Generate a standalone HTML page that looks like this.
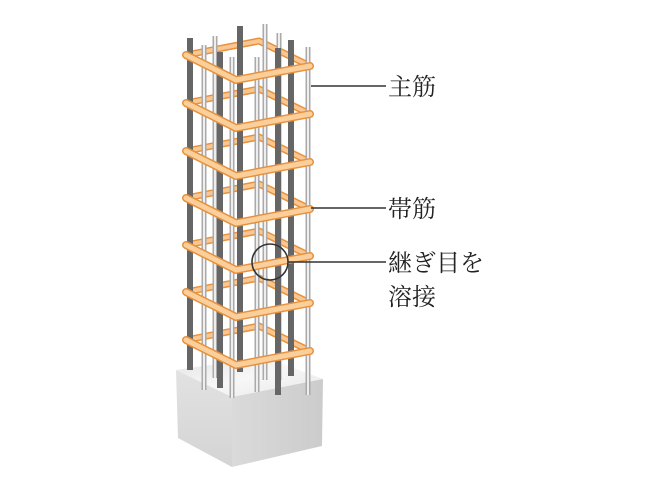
<!DOCTYPE html>
<html><head><meta charset="utf-8"><style>
html,body{margin:0;padding:0;background:#fff;width:660px;height:490px;overflow:hidden}
svg{display:block}
text{font-family:"Liberation Serif","Noto Serif CJK SC",serif;font-size:24px;fill:#222}
</style></head><body>
<svg width="660" height="490" viewBox="0 0 660 490">
<defs>
<linearGradient id="top" x1="0" y1="0" x2="1" y2="1"><stop offset="0" stop-color="#e4e4e4"/><stop offset="0.5" stop-color="#f7f7f7"/><stop offset="1" stop-color="#e8e8e8"/></linearGradient>
<linearGradient id="lf" x1="0" y1="0" x2="0" y2="1"><stop offset="0" stop-color="#e2e2e2"/><stop offset="1" stop-color="#d4d4d4"/></linearGradient>
<linearGradient id="rf" x1="0" y1="0" x2="1" y2="0"><stop offset="0" stop-color="#dadada"/><stop offset="1" stop-color="#cccccc"/></linearGradient>
</defs>
<polygon points="176,370 264,357 323,379 232,397" fill="url(#top)"/>
<polygon points="176,370 232,397 232,467 178,438" fill="url(#lf)"/>
<polygon points="232,397 323,379 322,446 232,467" fill="url(#rf)"/>
<g stroke-linecap="round" fill="none">
<g stroke="#e8913a" stroke-width="7">
<path d="M186,55 L259,41 L310,66"/><path d="M186,103 L259,89 L310,114"/><path d="M186,151 L259,137 L310,162"/><path d="M186,198 L259,184 L310,209"/><path d="M186,245 L259,231 L310,256"/><path d="M186,292 L259,278 L310,303"/><path d="M186,340 L259,326 L310,351"/>
</g>
<g stroke="#f9c792" stroke-width="4">
<path d="M186,55 L259,41 L310,66"/><path d="M186,103 L259,89 L310,114"/><path d="M186,151 L259,137 L310,162"/><path d="M186,198 L259,184 L310,209"/><path d="M186,245 L259,231 L310,256"/><path d="M186,292 L259,278 L310,303"/><path d="M186,340 L259,326 L310,351"/>
</g>
</g>
<g stroke-linecap="butt">
<line x1="240" y1="26" x2="240" y2="372" stroke="#666" stroke-width="6"/>
<line x1="265" y1="24" x2="265" y2="380" stroke="#aaa" stroke-width="5"/><line x1="265" y1="24" x2="265" y2="380" stroke="#eee" stroke-width="2"/>
<line x1="215" y1="36" x2="215" y2="378" stroke="#aaa" stroke-width="5"/><line x1="215" y1="36" x2="215" y2="378" stroke="#eee" stroke-width="2"/>
<line x1="279" y1="33" x2="279" y2="380" stroke="#aaa" stroke-width="5"/><line x1="279" y1="33" x2="279" y2="380" stroke="#eee" stroke-width="2"/>
<line x1="220" y1="52" x2="220" y2="388" stroke="#666" stroke-width="6"/>
<line x1="291" y1="40" x2="291" y2="376" stroke="#666" stroke-width="6"/>
<line x1="190" y1="38" x2="190" y2="370" stroke="#666" stroke-width="6"/>
<line x1="204" y1="45" x2="204" y2="390" stroke="#aaa" stroke-width="5"/><line x1="204" y1="45" x2="204" y2="390" stroke="#eee" stroke-width="2"/>
<line x1="308" y1="47" x2="308" y2="395" stroke="#aaa" stroke-width="5"/><line x1="308" y1="47" x2="308" y2="395" stroke="#eee" stroke-width="2"/>
<line x1="232" y1="57" x2="232" y2="398" stroke="#aaa" stroke-width="5"/><line x1="232" y1="57" x2="232" y2="398" stroke="#eee" stroke-width="2"/>
<line x1="257" y1="57" x2="257" y2="392" stroke="#aaa" stroke-width="5"/><line x1="257" y1="57" x2="257" y2="392" stroke="#eee" stroke-width="2"/>
<line x1="278" y1="48" x2="278" y2="395" stroke="#666" stroke-width="6"/>
</g>
<g stroke-linecap="round" stroke-linejoin="round" fill="none">
<g stroke="#e8913a" stroke-width="8">
<path d="M186,55 L236,80 L310,66"/><path d="M186,103 L236,128 L310,114"/><path d="M186,151 L236,176 L310,162"/><path d="M186,198 L236,223 L310,209"/><path d="M186,245 L236,270 L310,256"/><path d="M186,292 L236,317 L310,303"/><path d="M186,340 L236,365 L310,351"/>
</g>
<g stroke="#fbcf9c" stroke-width="5">
<path d="M186,55 L236,80 L310,66"/><path d="M186,103 L236,128 L310,114"/><path d="M186,151 L236,176 L310,162"/><path d="M186,198 L236,223 L310,209"/><path d="M186,245 L236,270 L310,256"/><path d="M186,292 L236,317 L310,303"/><path d="M186,340 L236,365 L310,351"/>
</g>
</g>
<g stroke="#333" stroke-width="1.6" fill="none">
<line x1="311" y1="86" x2="386" y2="86"/>
<line x1="311" y1="208" x2="386" y2="208"/>
<line x1="288" y1="262" x2="386" y2="262"/>
<circle cx="270" cy="262" r="18"/>
</g>
<text x="388" y="95">主筋</text>
<text x="388" y="217">帯筋</text>
<text x="388" y="271">継ぎ目を</text>
<text x="388" y="305">溶接</text>
</svg>
</body></html>
